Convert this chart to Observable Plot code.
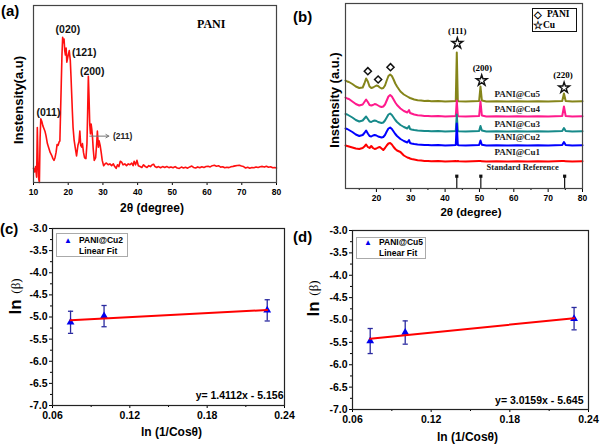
<!DOCTYPE html>
<html><head><meta charset="utf-8">
<script src="https://cdn.jsdelivr.net/npm/d3@7"></script>
<script src="https://cdn.jsdelivr.net/npm/@observablehq/plot@0.6"></script>
<style>
body{margin:0;background:#fff;}
#fig{position:relative;width:601px;height:445px;overflow:hidden;background:#fff;font-family:"Liberation Sans",Arial,sans-serif;}
.panel{position:absolute;}
.panel svg{overflow:visible;}
.t{position:absolute;white-space:nowrap;line-height:1;}
.v{position:absolute;white-space:nowrap;line-height:1;transform:translate(-50%,-50%) rotate(-90deg);}
.box{position:absolute;background:#fff;box-sizing:border-box;}
</style></head><body><div id="fig"></div>
<script>
const SANS = '"Liberation Sans", Arial, sans-serif';
const SERIF = '"Liberation Serif", "Times New Roman", serif';

// ---------- Panel (a): PANI XRD ----------
const twoThetaA = [10.0,10.3,10.6,10.9,11.1,11.3,11.5,11.7,11.9,12.1,12.4,12.7,13.0,13.3,13.6,14.0,14.4,14.8,15.2,15.6,15.9,16.2,16.5,16.8,17.1,17.4,17.6,17.8,18.0,18.2,18.4,18.6,18.8,19.0,19.2,19.4,19.6,19.8,20.0,20.3,20.6,20.8,21.0,21.2,21.4,21.7,22.0,22.4,22.8,23.1,23.35,23.6,23.9,24.1,24.4,24.7,25.1,25.4,25.6,25.8,26.0,26.2,26.4,26.6,26.8,27.0,27.2,27.5,27.9,28.2,28.4,28.7,28.9,29.2,29.5,29.8,30.2,30.6,31.0,31.5,32.0,32.5,33.0,33.4,33.8,34.2,34.6,35.0,35.4,35.8,36.3,36.8,37.3,37.8,38.3,38.7,39.0,39.4,39.8,40.2,40.7,41.2,41.7,42.2,42.7,43.2,43.7,44.2,44.6,45.0,45.5,46.0,46.6,47.2,47.8,48.4,49.0,49.6,50.2,50.8,51.4,52.0,52.6,53.2,53.8,54.4,55.0,55.6,56.1,56.7,57.3,57.9,58.5,59.1,59.7,60.3,60.9,61.5,62.1,62.7,63.3,63.9,64.5,65.1,65.7,66.3,66.9,67.5,68.1,68.7,69.3,69.9,70.5,71.1,71.7,72.3,72.9,73.5,74.1,74.7,75.3,75.9,76.5,77.1,77.7,78.3,78.9,79.5,80.0];
const intensityA = [8,6,9,3,31,12,2,0,25,36,34.5,32,30.5,29,26.5,22,19.5,17,15.5,13.5,12.5,14,17,21.5,21,23,23.5,40,56,72,82,79,81,74.5,72,76,68,70,72,74.5,69,60,50,40,31,24,20,15,21,23,29,21,20,22,17,14,13.5,22,40,60,48,33,27.5,33,30,25.5,19,12.5,14,22,29,20,23.5,21,17,12.5,9.5,10.5,11,10,10.5,9.5,10.5,9,8,10,9,12,11.5,10,10.5,9.5,10.5,10,11,9.5,12,10,12.5,9.5,9,8.5,10,9,8.5,9.5,9,10,10.3,9,8.5,9,8.3,9,8.5,9,8.4,8.8,8.3,9,8.2,8,8.7,8.2,8.6,8.1,8.8,9.3,8.5,8.2,8.8,8.3,8.9,8.5,9,9.2,8.8,9.5,9.7,9.2,9.5,8.7,8.9,8.3,8.6,8.4,8.9,9.1,9.4,9.6,9.7,9.3,9,8.2,8.6,8.1,8.5,8.3,8.8,8.5,8.9,9.1,8.7,9.2,8.6,8.9,8.3,8.5,8.2];
const ticksA = [10,20,30,40,50,60,70,80];
const peakTextA = ["(011)","(020)","(121)","(200)"];
const peakXA = [14.3,19.9,24.6,26.9];
const peakYA = [39.4,86.3,73.3,62.9];
const arrowA = {x1: 26.2, x2: 31.7, y: 26.2, label: "(211)", lx: 35.7};
const sampleA = {label: "PANI", x: 61.2, y: 89.7};

// ---------- Panel (b): PANI@Cu XRD ----------
const twoThetaB = [11,11.5,12,13,14,15,16,16.5,17,17.5,18,18.5,19,19.5,20,20.5,21,21.5,22,22.5,23,23.5,24,24.5,25,25.5,26,27,28,29,29.5,29.8,30.2,31,32,33,34,35,36,38,40,42,43.1,43.4,43.7,44,46,48,49.9,50.3,50.7,52,55,58,61,64,67,70,74.1,74.6,75.1,77,80];
const cu5 = [108,107,106.5,104.5,102,100.5,101,105,110,107,102,100.5,101,102,103,102.5,101,100,100.5,103,108,112.5,114,112.5,109,105,102,97,94,92,91,90.5,90,89,88.3,88,87.5,87.7,87.3,87.4,87,87.3,87.5,136,87.5,87.2,87,87.3,87.5,102,88,87,87.3,87,87.2,87,87.3,87,87.5,95,87.5,87,87.2];
const cu4 = [91,90,89.5,87,84.5,83,84,86.5,89,86.5,83.5,83,83.5,84.5,84,83,82,81.5,82,84,88,92,93.5,92,89,86,83.5,80,77.5,76,78.5,75.5,75,74,73.3,73,72.5,72.6,72.2,72.4,72,72.3,72.5,88,72.5,72.2,72,72.3,72.5,87,73,72,72.3,72,72.2,72,72.3,72,72.5,82,72.5,72,72.2];
const cu3 = [74.5,74,73,71,68.5,67,68,70,72,69.5,67,66.5,67.5,68,67.5,66.5,66,65.5,66,68,71,74,75,73.5,71,68.5,66.5,63.5,61.5,60,62.5,59.5,59,58.5,58,57.8,57.5,57.6,57.2,57.4,57,57.3,57.5,74,57.5,57.2,57,57.3,57.5,62.5,58,57,57.3,57,57.2,57,57.3,57,57.5,60.5,57.5,57,57.2];
const cu2 = [60,59.5,58.5,56.5,54,52.5,53.5,55.5,58,55,52.5,52,53,53.5,53,52,51.5,51,51.5,53.5,57,60,61,59.5,57,54.5,52.5,49.5,47.5,46,48.5,45.5,45,44.5,44,43.8,43.5,43.6,43.2,43.4,43,43.3,43.5,65,43.5,43.2,43,43.3,43.5,48,43.8,43,43.3,43,43.2,43,43.3,43,43.5,46.5,43.5,43,43.2];
const cu1 = [43,42.5,42,41,40,39.5,40.5,42,44,41.5,40.5,42.5,40.5,39.5,40,41,41.5,40,38.5,40.5,43,45,45.5,44,41.5,39.5,38,36.5,33,31,30.5,30,29.5,29,28.3,28,27.5,27.6,27.2,27.4,27,27.3,27.5,27.3,27.5,27.2,27,27.3,27.5,27.4,27.3,27,27.3,27,27.2,27,27.3,27,27.5,27.4,27.3,27,27.2];
const seriesNamesB = ["PANI@Cu5","PANI@Cu4","PANI@Cu3","PANI@Cu2","PANI@Cu1"];
const seriesColorsB = ["#85851a","#ff1a8c","#178a8a","#0000ff","#ff0000"];
const seriesLabelYB = [94, 79, 64.5, 51.3, 36];
const seriesLabelXB = 61;
const majorTicksB = [20,30,40,50,60,70,80];
const minorTicksB = [15,25,35,45,55,65,75];
const refPeaksB = [43.4, 50.4, 74.8];
const refMarkTopB = 12.3;
const cuPeakTextB = ["(111)","(200)","(220)"];
const cuPeakTextXB = [43.56, 50.85, 74.35];
const cuPeakTextYB = [157.3, 120, 113.5];
const cuStarXB = [43.56, 50.65, 74.65];
const cuStarYB = [145.3, 108, 100.7];
const paniDiamondXB = [17.5, 20.5, 24.1];
const paniDiamondYB = [117.3, 109, 121.3];
const stdRefB = {label: "Standard Reference", x: 62.6, y: 21};

// ---------- Panels (c), (d): Williamson-Hall ----------
const lnInvCosC = [0.074, 0.100, 0.2266];
const lnBetaC = [-5.12, -4.98, -4.85];
const errC = [0.25, 0.24, 0.24];
const lnInvCosD = [0.0735, 0.1002, 0.229];
const lnBetaD = [-5.47, -5.28, -4.97];
const errD = [0.28, 0.26, 0.25];
const eqC = "y= 1.4112x - 5.156";
const eqD = "y= 3.0159x - 5.645";
const xMajorCD = [0.06, 0.12, 0.18, 0.24];
const xMinorCD = [0.09, 0.15, 0.21];
const yMajorCD = [-7,-6.5,-6,-5.5,-5,-4.5,-4,-3.5,-3];
const yMinorCD = [-6.75,-6.25,-5.75,-5.25,-4.75,-4.25,-3.75,-3.25];

const fig = document.getElementById("fig");
function place(svg, left, top) {
  const d = document.createElement("div");
  d.className = "panel"; d.style.left = left + "px"; d.style.top = top + "px";
  d.appendChild(svg); fig.appendChild(d);
}
function txt(s, left, top, css, cls) {
  const d = document.createElement("div");
  d.className = cls || "t"; d.textContent = s; d.style.left = left + "px"; d.style.top = top + "px";
  Object.assign(d.style, css || {}); fig.appendChild(d); return d;
}
function box(left, top, w, h, border) {
  const d = document.createElement("div");
  d.className = "box"; Object.assign(d.style, {left: left+"px", top: top+"px", width: w+"px", height: h+"px", border: border});
  fig.appendChild(d);
}
function title(t, x, y, o) {
  return Plot.text([{t, x, y}], {x: "x", y: "y", text: "t", textAnchor: "middle", lineAnchor: "middle", ...o});
}

// Panel (a)
const dataA = twoThetaA.map((x, i) => ({x, y: intensityA[i]}));
const peaksA = peakTextA.map((t, i) => ({t, x: peakXA[i], y: peakYA[i]}));
place(Plot.plot({
  width: 300, height: 220, marginLeft: 33, marginRight: 24, marginTop: 5, marginBottom: 38,
  style: {fontFamily: SANS, background: "transparent", overflow: "visible"},
  x: {domain: [10, 80]}, y: {domain: [0, 100], axis: null},
  marks: [
    Plot.axisX({ticks: ticksA, tickSize: 3, tickPadding: 3, fontSize: 8.5, fontWeight: "bold", label: null}),
    Plot.line(dataA, {x: "x", y: "y", stroke: "#ff1010", strokeWidth: 1.6}),
    Plot.frame({stroke: "#444", strokeWidth: 1.2}),
    Plot.text(peaksA, {x: "x", y: "y", text: "t", fontSize: 10.5, fontWeight: "bold", fill: "#111"}),
    Plot.arrow([arrowA], {x1: "x1", x2: "x2", y1: "y", y2: "y", stroke: "#777", strokeWidth: 1, headLength: 5}),
    Plot.text([arrowA], {x: "lx", y: "y", text: "label", fontSize: 8.5, fontWeight: "bold", fill: "#222"}),
    Plot.text([sampleA], {x: "x", y: "y", text: "label", fontSize: 12, fontWeight: "bold", fontFamily: SERIF}),
    title("2θ (degree)", 45, 0, {dy: 26, dx: -3, fontSize: 12, fontWeight: "bold"})
  ]
}), 0, 0);

// Panel (b)
const curveMarksB = [cu5, cu4, cu3, cu2, cu1].map((vals, k) =>
  Plot.line(twoThetaB.map((x, i) => ({x, y: vals[i]})), {x: "x", y: "y", stroke: seriesColorsB[k], strokeWidth: 2}));
const labelsB = seriesNamesB.map((n, k) => ({n, x: seriesLabelXB, y: seriesLabelYB[k]}));
place(Plot.plot({
  width: 301, height: 220, marginLeft: 45, marginRight: 19, marginTop: 3, marginBottom: 32,
  style: {fontFamily: SANS, background: "transparent", overflow: "visible"},
  x: {domain: [11, 80]}, y: {domain: [0, 185], axis: null},
  marks: [
    Plot.axisX({ticks: majorTicksB, tickSize: 4, tickPadding: 2, fontSize: 8.5, fontWeight: "bold", label: null}),
    Plot.axisX({ticks: minorTicksB, tickSize: 2, tickFormat: () => "", label: null}),
    ...curveMarksB,
    Plot.ruleX(refPeaksB, {x: d => d, y1: 0, y2: refMarkTopB, stroke: "#111", strokeWidth: 1.2}),
    Plot.dot(refPeaksB, {x: d => d, y: refMarkTopB, symbol: "square", r: 1.8, fill: "#111"}),
    Plot.frame({stroke: "#444", strokeWidth: 1.2}),
    Plot.text(labelsB, {x: "x", y: "y", text: "n", fontSize: 9, fontWeight: "bold", fontFamily: SERIF, fill: "#222"}),
    Plot.text([stdRefB], {x: "x", y: "y", text: "label", fontSize: 8.5, fontWeight: "bold", fontFamily: SERIF, fill: "#222"}),
    Plot.text(cuPeakTextB.map((t, i) => ({t, x: cuPeakTextXB[i], y: cuPeakTextYB[i]})), {x: "x", y: "y", text: "t", fontSize: 9, fontWeight: "bold", fontFamily: SERIF}),
    Plot.dot(cuStarXB.map((x, i) => ({x, y: cuStarYB[i]})), {x: "x", y: "y", symbol: "star", r: 3.4, stroke: "#111", fill: "white", strokeWidth: 1.4}),
    Plot.dot(paniDiamondXB.map((x, i) => ({x, y: paniDiamondYB[i]})), {x: "x", y: "y", symbol: "diamond2", r: 3.2, stroke: "#111", fill: "white", strokeWidth: 1.5}),
    title("2θ (degree)", 45.5, 0, {dy: 24, dx: 7, fontSize: 11.5, fontWeight: "bold"})
  ]
}), 300, 0);

// Panels (c) and (d)
const capSymbol = {draw(ctx) { ctx.moveTo(-2.6, 0); ctx.lineTo(2.6, 0); }};
function whPlot(xs, ys, es, eq, m) {
  const data = xs.map((x, i) => ({x, y: ys[i], lo: ys[i] - es[i], hi: ys[i] + es[i]}));
  const ERR = "#2a2aa0";
  return Plot.plot({
    width: m.w, height: 225, marginLeft: m.l, marginRight: m.r, marginTop: m.t, marginBottom: m.b,
    style: {fontFamily: SANS, background: "transparent", overflow: "visible"},
    x: {domain: [0.06, 0.24]}, y: {domain: [-7, -3]},
    marks: [
      Plot.axisX({ticks: xMajorCD, tickSize: 3, tickPadding: 3, tickFormat: d => d.toFixed(2), fontSize: 10.5, fontWeight: "bold", label: null}),
      Plot.axisX({ticks: xMinorCD, tickSize: 2, tickFormat: () => "", label: null}),
      Plot.axisY({ticks: yMajorCD, tickSize: 3, tickPadding: 2, tickFormat: d => d.toFixed(1), fontSize: 10.5, fontWeight: "bold", label: null}),
      Plot.axisY({ticks: yMinorCD, tickSize: 2, tickFormat: () => "", label: null}),
      Plot.frame({stroke: "#222", strokeWidth: 1.2}),
      Plot.ruleX(data, {x: "x", y1: "lo", y2: "hi", stroke: ERR, strokeWidth: 1.3}),
      Plot.dot(data, {x: "x", y: "lo", symbol: capSymbol, fill: "none", stroke: ERR, strokeWidth: 1.3}),
      Plot.dot(data, {x: "x", y: "hi", symbol: capSymbol, fill: "none", stroke: ERR, strokeWidth: 1.3}),
      Plot.dot(data, {x: "x", y: "y", symbol: "triangle", r: 2.9, fill: "#0000ee", stroke: "none"}),
      Plot.linearRegressionY(data, {x: "x", y: "y", stroke: "#ff0000", strokeWidth: 2, ci: 0}),
      title(eq, 0.24, -7, {dx: m.eqdx, dy: m.eqdy, textAnchor: "end", fontSize: 10.5, fontWeight: "bold"}),
      title("ln (1/Cosθ)", 0.15, -7, {dx: m.tdx, dy: m.tdy, fontSize: 12, fontWeight: "bold"})
    ]
  });
}
place(whPlot(lnInvCosC, lnBetaC, errC, eqC, {w: 300, l: 52, r: 16, t: 8, b: 40, eqdx: -1, eqdy: -10, tdx: 3, tdy: 27}), 0, 220);
place(whPlot(lnInvCosD, lnBetaD, errD, eqD, {w: 301, l: 52, r: 13, t: 10, b: 36, eqdx: -5, eqdy: -9, tdx: -3, tdy: 28}), 300, 220);

// Vertical axis titles (centre positions)
txt("Instensity(a.u)", 18, 99.5, {fontSize: "13px", fontWeight: "bold"}, "v");
txt("Instensity (a.u.)", 333.5, 100, {fontSize: "13px", fontWeight: "bold"}, "v");
txt("ln", 15, 306.5, {fontSize: "17px", fontWeight: "bold"}, "v");
txt("(β)", 15, 286, {fontSize: "13px", fontFamily: SERIF}, "v");
txt("ln", 313, 308.5, {fontSize: "17px", fontWeight: "bold"}, "v");
txt("(β)", 313, 287.5, {fontSize: "13px", fontFamily: SERIF}, "v");

// Panel letters
txt("(a)", 1, 3, {fontSize: "15px", fontWeight: "bold"});
txt("(b)", 293, 9, {fontSize: "15px", fontWeight: "bold"});
txt("(c)", 0, 221, {fontSize: "15px", fontWeight: "bold"});
txt("(d)", 293, 229, {fontSize: "15px", fontWeight: "bold"});

// Legends
box(532, 8, 45, 24, "1px solid #111");
txt("◇", 534, 9.5, {fontSize: "10px", fontWeight: "bold", fontFamily: SERIF});
txt("PANI", 547, 9.5, {fontSize: "9.5px", fontWeight: "bold", fontFamily: SERIF});
txt("☆", 533, 20, {fontSize: "11px", fontWeight: "bold", fontFamily: SERIF});
txt("Cu", 543, 20.5, {fontSize: "9.5px", fontWeight: "bold", fontFamily: SERIF});

box(56, 233, 72, 24, "1px solid #aaa");
txt("▲", 64, 236.5, {fontSize: "8px", color: "#0000ee"});
txt("PANI@Cu2", 79, 236, {fontSize: "8.5px", fontWeight: "bold"});
txt("Linear Fit", 79, 247, {fontSize: "8.5px", fontWeight: "bold"});

box(356, 237, 70, 22, "1px solid #aaa");
txt("▲", 364, 238.5, {fontSize: "8px", color: "#0000ee"});
txt("PANI@Cu5", 379, 238, {fontSize: "8.5px", fontWeight: "bold"});
txt("Linear Fit", 379, 249, {fontSize: "8.5px", fontWeight: "bold"});
</script></body></html>
